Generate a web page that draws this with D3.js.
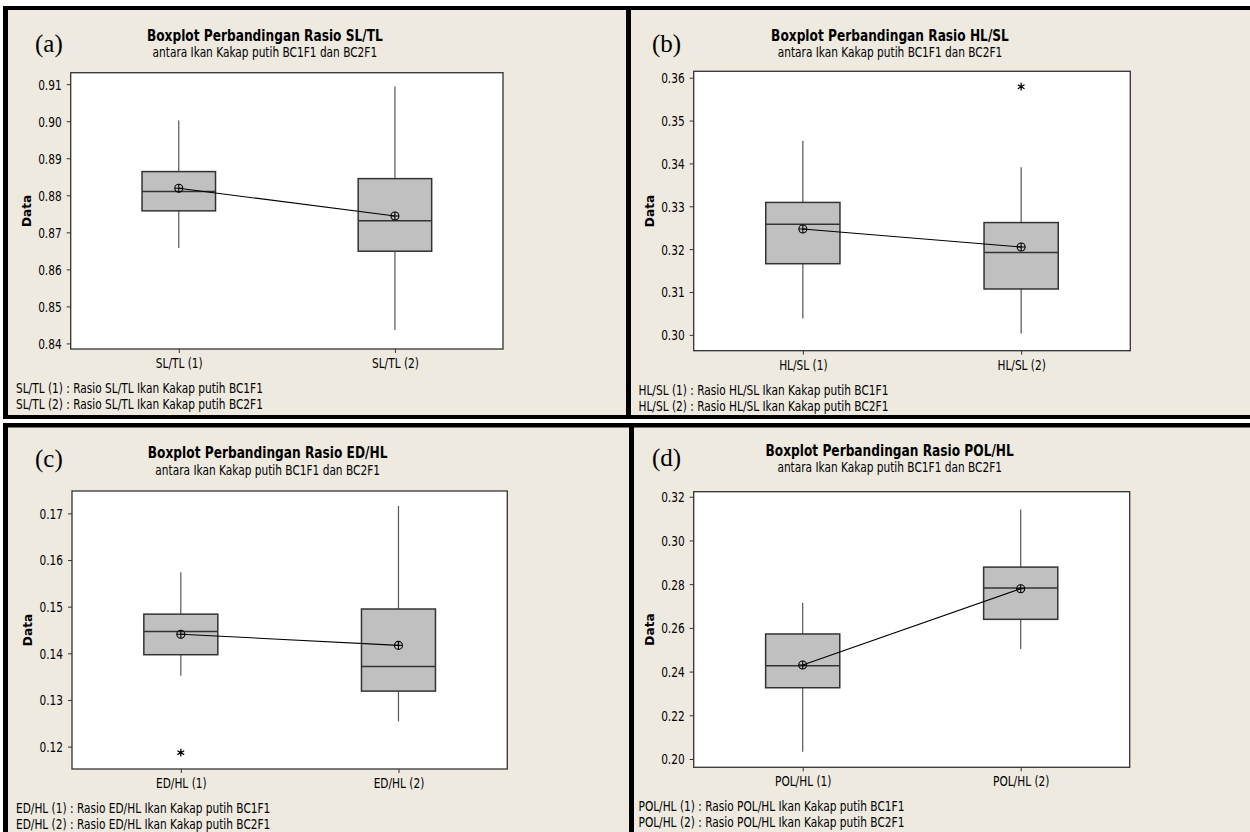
<!DOCTYPE html>
<html>
<head>
<meta charset="utf-8">
<script src="https://cdn.jsdelivr.net/npm/d3@7"></script>
<style>
  body { margin: 0; background: #fff; }
  svg { display: block; }
</style>
</head>
<body>
<svg id="chart" width="1250" height="832"></svg>
<script>
// values
var ratios = ['SL/TL', 'HL/SL', 'ED/HL', 'POL/HL'];
var letters = ['(a)', '(b)', '(c)', '(d)'];
var groups = ['BC1F1', 'BC2F1'];
var whiskerLow  = [[0.8658, 0.8436], [0.3038, 0.3003], [0.1352, 0.1254], [0.2033, 0.2503]];
var q1          = [[0.8758, 0.8649], [0.3166, 0.3107], [0.1397, 0.1319], [0.2326, 0.2639]];
var medians     = [[0.8810, 0.8731], [0.3258, 0.3192], [0.1447, 0.1372], [0.2427, 0.2782]];
var q3          = [[0.8864, 0.8845], [0.3309, 0.3262], [0.1484, 0.1495], [0.2572, 0.2878]];
var whiskerHigh = [[0.9002, 0.9094], [0.3453, 0.3391], [0.1574, 0.1716], [0.2715, 0.3142]];
var means       = [[0.8819, 0.8744], [0.3247, 0.3205], [0.1441, 0.1417], [0.2430, 0.2779]];
var outliers    = [[[], []], [[], [0.3579]], [[0.1187], []], [[], []]];
var yTicks = [
  [0.84, 0.85, 0.86, 0.87, 0.88, 0.89, 0.90, 0.91],
  [0.30, 0.31, 0.32, 0.33, 0.34, 0.35, 0.36],
  [0.12, 0.13, 0.14, 0.15, 0.16, 0.17],
  [0.20, 0.22, 0.24, 0.26, 0.28, 0.30, 0.32]
];
var yDomains = [[0.8385, 0.9131], [0.2963, 0.3615], [0.1152, 0.1748], [0.1962, 0.3223]];

// panel geometry
var layout = [
  { frame: [70.7, 72.7, 503, 349],     title: 41,    sub: 57,   letterX: 35,  letterY: 52,  dataX: 31,  noteX: 16 },
  { frame: [693.7, 71.3, 1130.3, 350.7], title: 41,  sub: 57.3, letterX: 652, letterY: 52,  dataX: 654, noteX: 638.5 },
  { frame: [72, 491, 507.3, 769],      title: 457.5, sub: 475,  letterX: 35,  letterY: 467, dataX: 32,  noteX: 16 },
  { frame: [693.7, 491.7, 1129.7, 767.3], title: 456, sub: 472, letterX: 652, letterY: 466, dataX: 654, noteX: 638.5 }
];

var SANS = '"DejaVu Sans", Verdana, sans-serif'
  , FS = 13.5
  , svg = d3.select('#chart')
  , SQ, SQB
  , _measure
  , _text
  , _drawPanel
;

// the picture is narrower than the font: squeeze text to the widths seen there
_measure = function (str, size, weight) {
  var t = svg.append('text').attr('font-family', SANS).attr('font-size', size)
    .attr('font-weight', weight).text(str)
    , w = t.node().getComputedTextLength();
  t.remove();
  return w;
};
SQ = 247 / _measure('SL/TL (1) : Rasio SL/TL Ikan Kakap putih BC1F1', FS, 'normal');
SQB = 236 / _measure('Boxplot Perbandingan Rasio SL/TL', 15.5, 'bold');

// panel backgrounds and the black frames round them
svg.append('rect').attr('x', 3).attr('y', 6).attr('width', 1247).attr('height', 413).attr('fill', '#000');
svg.append('rect').attr('x', 3).attr('y', 423).attr('width', 1247).attr('height', 409).attr('fill', '#000');
[[8, 10, 618, 405], [631, 10, 619, 405], [8, 427.5, 621, 405], [634, 427.5, 616, 405]].forEach(function (r) {
  svg.append('rect').attr('x', r[0]).attr('y', r[1]).attr('width', r[2]).attr('height', r[3]).attr('fill', '#EEEAE0');
});

_text = function (g, x, y, str, opt) {
  var o = Object.assign({ size: FS, weight: 'normal', anchor: 'start', sx: SQ, family: SANS }, opt);
  return g.append('text')
    .attr('transform', 'translate(' + x + ',' + y + ') scale(' + o.sx + ',1)')
    .attr('text-anchor', o.anchor)
    .attr('font-family', o.family)
    .attr('font-size', o.size)
    .attr('font-weight', o.weight)
    .attr('fill', '#000')
    .text(str);
};

_drawPanel = function (i) {
  var L = layout[i]
    , f = L.frame
    , g = svg.append('g')
    , cats = [ratios[i] + ' (1)', ratios[i] + ' (2)']
    , x = d3.scalePoint().domain(cats).range([f[0], f[2]]).padding(0.5)
    , y = d3.scaleLinear().domain(yDomains[i]).range([f[3], f[1]])
    , boxW = (f[2] - f[0]) * 0.17
    , midX = (f[0] + f[2]) / 2 - 22
    , stats
    , yAxis
    , xAxis
  ;

  _text(g, L.letterX, L.letterY, letters[i], { family: '"Liberation Serif", "Times New Roman", serif', size: 25, sx: 1 });
  _text(g, midX, L.title, 'Boxplot Perbandingan Rasio ' + ratios[i], { size: 15.5, weight: 'bold', anchor: 'middle', sx: SQB });
  _text(g, midX, L.sub, 'antara Ikan Kakap putih ' + groups[0] + ' dan ' + groups[1], { anchor: 'middle' });

  g.append('rect')
    .attr('x', f[0]).attr('y', f[1])
    .attr('width', f[2] - f[0]).attr('height', f[3] - f[1])
    .attr('fill', '#fff').attr('stroke', '#333').attr('stroke-width', 1.3);

  yAxis = g.append('g')
    .attr('transform', 'translate(' + f[0] + ',0)')
    .call(d3.axisLeft(y).tickValues(yTicks[i]).tickFormat(d3.format('.2f')).tickSize(4).tickSizeOuter(0));
  yAxis.select('.domain').remove();
  yAxis.selectAll('line').attr('stroke', '#333');
  yAxis.selectAll('text')
    .attr('x', -9 / SQ).attr('dy', '0.36em')
    .attr('transform', 'scale(' + SQ + ',1)')
    .attr('font-family', SANS).attr('font-size', FS).attr('fill', '#000');

  xAxis = g.append('g')
    .attr('transform', 'translate(0,' + f[3] + ')')
    .call(d3.axisBottom(x).tickSize(4).tickSizeOuter(0));
  xAxis.select('.domain').remove();
  xAxis.selectAll('line').attr('stroke', '#333');
  xAxis.selectAll('text')
    .attr('y', 19).attr('dy', 0)
    .attr('transform', 'scale(' + SQ + ',1)')
    .attr('font-family', SANS).attr('font-size', FS).attr('fill', '#000');

  g.append('text')
    .attr('transform', 'translate(' + L.dataX + ',' + (f[1] + f[3]) / 2 + ') rotate(-90)')
    .attr('text-anchor', 'middle')
    .attr('font-family', SANS).attr('font-size', 12.2).attr('font-weight', 'bold')
    .text('Data');

  stats = cats.map(function (c, j) {
    return { cat: c, lo: whiskerLow[i][j], q1: q1[i][j], med: medians[i][j], q3: q3[i][j],
             hi: whiskerHigh[i][j], mean: means[i][j], out: outliers[i][j] };
  });

  // whiskers
  g.selectAll('.whisker-hi').data(stats).enter().append('line')
    .attr('x1', function (d) { return x(d.cat); }).attr('x2', function (d) { return x(d.cat); })
    .attr('y1', function (d) { return y(d.q3); }).attr('y2', function (d) { return y(d.hi); })
    .attr('stroke', '#555').attr('stroke-width', 1.2);
  g.selectAll('.whisker-lo').data(stats).enter().append('line')
    .attr('x1', function (d) { return x(d.cat); }).attr('x2', function (d) { return x(d.cat); })
    .attr('y1', function (d) { return y(d.q1); }).attr('y2', function (d) { return y(d.lo); })
    .attr('stroke', '#555').attr('stroke-width', 1.2);

  // boxes and medians
  g.selectAll('.box').data(stats).enter().append('rect')
    .attr('x', function (d) { return x(d.cat) - boxW / 2; })
    .attr('y', function (d) { return y(d.q3); })
    .attr('width', boxW)
    .attr('height', function (d) { return y(d.q1) - y(d.q3); })
    .attr('fill', '#C0C0C0').attr('stroke', '#333').attr('stroke-width', 1.5);
  g.selectAll('.median').data(stats).enter().append('line')
    .attr('x1', function (d) { return x(d.cat) - boxW / 2; })
    .attr('x2', function (d) { return x(d.cat) + boxW / 2; })
    .attr('y1', function (d) { return y(d.med); }).attr('y2', function (d) { return y(d.med); })
    .attr('stroke', '#333').attr('stroke-width', 1.5);

  // outliers
  stats.forEach(function (d) {
    d.out.forEach(function (v) {
      g.append('path')
        .attr('d', d3.symbol(d3.symbolAsterisk, 42)())
        .attr('transform', 'translate(' + x(d.cat) + ',' + y(v) + ')')
        .attr('fill', 'none').attr('stroke', '#000').attr('stroke-width', 1.25);
      g.append('circle').attr('cx', x(d.cat)).attr('cy', y(v)).attr('r', 1.3).attr('fill', '#000');
    });
  });

  // mean connect line and circled-plus symbols
  g.append('path')
    .datum(stats)
    .attr('d', d3.line().x(function (d) { return x(d.cat); }).y(function (d) { return y(d.mean); }))
    .attr('fill', 'none').attr('stroke', '#000').attr('stroke-width', 1.1);
  stats.forEach(function (d) {
    var cx = x(d.cat), cy = y(d.mean), r = 4;
    g.append('circle').attr('cx', cx).attr('cy', cy).attr('r', r)
      .attr('fill', 'none').attr('stroke', '#000').attr('stroke-width', 1.1);
    g.append('path')
      .attr('d', 'M' + (cx - r) + ',' + cy + 'H' + (cx + r) + 'M' + cx + ',' + (cy - r) + 'V' + (cy + r))
      .attr('stroke', '#000').attr('stroke-width', 1.1);
  });

  // footnotes
  cats.forEach(function (c, j) {
    _text(g, L.noteX, f[3] + 44 + 16 * j, c + ' : Rasio ' + ratios[i] + ' Ikan Kakap putih ' + groups[j]);
  });
};

d3.range(4).forEach(_drawPanel);
</script>
</body>
</html>
